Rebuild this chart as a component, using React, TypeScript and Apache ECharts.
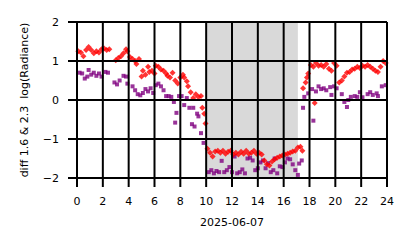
import React, { useEffect, useRef } from "react";
import * as echarts from "echarts";

const redHours = [
  0.1, 0.3, 0.5, 0.7, 0.9, 1.1, 1.3, 1.5, 1.7, 1.9, 2.1, 2.3, 2.5,
  3.0, 3.2, 3.4, 3.6, 3.8, 3.9, 4.1, 4.3, 4.5, 4.6, 4.8, 5.0, 5.1, 5.3, 5.5, 5.6, 5.8,
  6.0, 6.1, 6.3, 6.5, 6.7, 6.9, 7.0, 7.2, 7.4, 7.6, 7.8, 8.0, 8.2, 8.3, 8.5, 8.6, 8.8,
  9.0, 9.2, 9.4, 9.6, 9.7, 9.85, 9.95,
  10.1, 10.3, 10.5, 10.7, 10.9, 11.1, 11.3, 11.5, 11.7, 11.9, 12.1, 12.3, 12.5, 12.7, 12.9,
  13.1, 13.3, 13.5, 13.7, 13.9, 14.1, 14.3, 14.5, 14.7, 14.9, 15.1, 15.3, 15.5, 15.7, 15.9,
  16.1, 16.3, 16.5, 16.7, 16.9, 17.1, 17.3, 17.45,
  17.5, 17.7, 17.8, 17.9, 18.1, 18.3, 18.4, 18.5, 18.7, 18.9, 19.1, 19.3, 19.5, 19.7, 19.9,
  20.1, 20.3, 20.5, 20.7, 20.9, 21.1, 21.3, 21.5, 21.7, 21.9, 22.1, 22.3, 22.5, 22.7, 22.9,
  23.1, 23.3, 23.5, 23.7, 23.9,
];
const redValues = [
  1.25, 1.22, 1.12, 1.28, 1.36, 1.28, 1.2, 1.25, 1.22, 1.3, 1.32, 1.28, 1.3,
  1.02, 1.08, 1.12, 1.2, 1.3, 1.25, 1.1, 1.05, 1.0, 0.92, 1.05, 0.6, 0.75, 0.65, 0.85, 0.72, 0.75,
  0.68, 0.88, 0.85, 0.78, 0.75, 0.68, 0.62, 0.58, 0.7, 0.5, 0.42, 0.58, 0.65, 0.58, 0.48, 0.35, 0.2,
  0.05, 0.15, 0.08, 0.1, -0.2, -0.35, -0.6,
  -1.25, -1.35, -1.45, -1.32, -1.3, -1.35, -1.3, -1.38, -1.33, -1.3, -1.4, -1.35, -1.4, -1.33, -1.38,
  -1.3, -1.38, -1.35, -1.3, -1.38, -1.35, -1.4, -1.55, -1.65, -1.68, -1.58, -1.52, -1.48, -1.45, -1.42,
  -1.4, -1.38, -1.35, -1.32, -1.3, -1.22, -1.2, -1.3,
  0.3, 0.45, 0.58, 0.68, 0.9, 0.85, -0.08, 0.95, 0.88, 0.9, 0.85, 0.92, 0.8, 0.75, 0.95,
  0.88, 0.45, 0.5, 0.6, 0.7, 0.72, 0.78, 0.8, 0.85, 0.82, 0.88, 0.85, 0.9, 0.85, 0.8,
  0.75, 0.72, 0.85, 1.0, 0.95,
];

const purpleHours = [
  0.2, 0.4, 0.6, 0.8, 0.9, 1.1, 1.3, 1.5, 1.7, 1.9, 2.2, 2.4, 2.9, 3.1, 3.3, 3.6, 3.8, 3.9,
  4.3, 4.5, 4.7, 4.9, 5.1, 5.3, 5.5, 5.7, 5.9, 6.1, 6.3, 6.5, 6.7, 6.9, 7.1, 7.3, 7.5, 7.6, 7.7,
  7.9, 8.1, 8.3, 8.5, 8.7, 8.9, 9.0, 9.1, 9.3, 9.4, 9.6, 9.8,
  10.2, 10.4, 10.6, 10.8, 11.0, 11.2, 11.4, 11.6, 11.8, 12.0, 12.2, 12.4, 12.6, 12.8, 13.0,
  13.2, 13.4, 13.6, 13.8, 14.0, 14.2, 14.4, 14.6, 14.8, 15.0, 15.2, 15.3, 15.5, 15.7, 15.9,
  16.1, 16.3, 16.5, 16.7, 16.9, 17.1, 17.2, 17.4,
  17.5, 17.6, 17.9, 18.2, 18.3, 18.5, 18.7, 18.9, 19.1, 19.3, 19.6, 19.7, 19.9, 20.1, 20.5,
  20.7, 20.9, 21.0, 21.2, 21.5, 21.7, 21.9, 22.1, 22.5, 22.7, 22.9, 23.2, 23.3, 23.6, 23.9,
];
const purpleValues = [
  0.7, 0.68, 0.55, 0.6, 0.77, 0.65, 0.7, 0.62, 0.68, 0.6, 0.72, 0.7, 0.45, 0.4, 0.5, 0.62, 0.6, 0.42,
  0.35, 0.25, 0.15, 0.12, 0.18, 0.28, 0.22, 0.3, 0.18, 0.38, 0.42, 0.35, 0.25, 0.1, 0.1, 0.08, -0.05, -0.58, -0.33,
  0.1, 0.1, -0.13, 0.05, -0.2, -0.62, -0.2, -0.68, -0.35, -0.42, -0.85, -1.1,
  -1.85, -1.8, -1.88, -1.82, -1.85, -1.56, -1.85, -1.8, -1.72, -1.85, -1.45, -1.88, -1.85, -1.78, -1.88,
  -1.5, -1.48, -1.55, -1.8, -1.75, -1.6, -1.55, -1.75, -1.62, -1.85, -1.8, -1.5, -1.88, -1.7, -1.72,
  -1.6, -1.5, -1.52, -1.65, -1.8, -1.92, -1.63, -1.55,
  -0.2, 0.08, 0.17, 0.28, -0.53, 0.22, 0.35, 0.28, 0.3, 0.25, 0.33, 0.13, 0.35, 0.3, 0.15,
  -0.05, -0.18, 0.0, 0.08, 0.1, 0.08, 0.2, 0.07, 0.15, 0.2, 0.13, 0.17, 0.1, 0.35, 0.38,
];

const shadeSpan = [10.0, 17.1];
const xTickValues = [0, 2, 4, 6, 8, 10, 12, 14, 16, 18, 20, 22, 24];
const yTickValues = [-2, -1, 0, 1, 2];
const xTitle = "2025-06-07";
const yTitle = "diff 1.6 & 2.3  log(Radiance)";

const FONT = "DejaVu Sans";
const TICK_LEN = 9;

export default function App() {
  const ref = useRef<HTMLDivElement>(null);
  useEffect(() => {
    if (!ref.current) return;
    const chart = echarts.init(ref.current, undefined, { renderer: "svg" });
    const xMin = xTickValues[0];
    const xMax = xTickValues[xTickValues.length - 1];
    const yMin = yTickValues[0];
    const yMax = yTickValues[yTickValues.length - 1];
    const fmt = (v: number) => (v < 0 ? "\u2212" + Math.abs(v) : String(v));
    const lineStyle = { stroke: "#000", lineWidth: 2 };
    chart.setOption({
      animation: false,
      grid: { left: 77, top: 22, width: 310, height: 156 },
      xAxis: {
        type: "value",
        min: xMin,
        max: xMax,
        interval: xTickValues[1] - xTickValues[0],
        axisLine: { show: true, onZero: false, lineStyle: { color: "#000", width: 2 } },
        axisTick: { show: false },
        splitLine: { show: false },
        axisLabel: { color: "#000", fontSize: 11, fontFamily: FONT, margin: 18, formatter: fmt },
      },
      yAxis: {
        type: "value",
        min: yMin,
        max: yMax,
        interval: yTickValues[1] - yTickValues[0],
        axisLine: { show: true, onZero: false, lineStyle: { color: "#000", width: 2 } },
        axisTick: { show: false },
        splitLine: { show: false },
        axisLabel: { color: "#000", fontSize: 11, fontFamily: FONT, margin: 18, formatter: fmt },
      },
      graphic: [
        {
          type: "text",
          x: 24.5,
          y: 100,
          rotation: Math.PI / 2,
          style: { text: yTitle, fill: "#000", fontSize: 11, fontFamily: FONT, align: "center", verticalAlign: "middle" },
        },
        {
          type: "text",
          x: 232,
          y: 222.5,
          style: { text: xTitle, fill: "#000", fontSize: 11, fontFamily: FONT, align: "center", verticalAlign: "middle" },
        },
      ],
      series: [
        {
          type: "scatter",
          z: 2,
          symbol: "rect",
          symbolSize: 4,
          itemStyle: { color: "#800080" },
          data: purpleHours.map((h, i) => [h, purpleValues[i]]),
        },
        {
          type: "scatter",
          z: 2,
          symbol: "diamond",
          symbolSize: 6,
          itemStyle: { color: "#ff0000" },
          data: redHours.map((h, i) => [h, redValues[i]]),
        },
        {
          type: "scatter",
          z: 3,
          data: [],
          markArea: {
            silent: true,
            itemStyle: { color: "rgba(128,128,128,0.3)" },
            data: [[{ xAxis: shadeSpan[0], yAxis: yMin }, { xAxis: shadeSpan[1], yAxis: yMax }]],
          },
        },
        {
          type: "custom",
          z: 4,
          silent: true,
          clip: false,
          data: xTickValues.map((v) => [v, yMin]),
          renderItem: (params: any, api: any) => {
            const v = api.value(0);
            const top = api.coord([v, yMax]);
            const bottom = api.coord([v, yMin]);
            return {
              type: "line",
              shape: { x1: top[0], y1: top[1], x2: bottom[0], y2: bottom[1] + TICK_LEN },
              style: lineStyle,
            };
          },
        },
        {
          type: "custom",
          z: 4,
          silent: true,
          clip: false,
          data: yTickValues.map((v) => [xMin, v]),
          renderItem: (params: any, api: any) => {
            const v = api.value(1);
            const left = api.coord([xMin, v]);
            const right = api.coord([xMax, v]);
            return {
              type: "line",
              shape: { x1: left[0] - TICK_LEN, y1: left[1], x2: right[0], y2: right[1] },
              style: lineStyle,
            };
          },
        },
      ],
    });
    return () => chart.dispose();
  }, []);
  return (
    <div
      ref={ref}
      style={{ position: "fixed", left: 0, top: 0, width: 414, height: 248, background: "#fff" }}
    />
  );
}
